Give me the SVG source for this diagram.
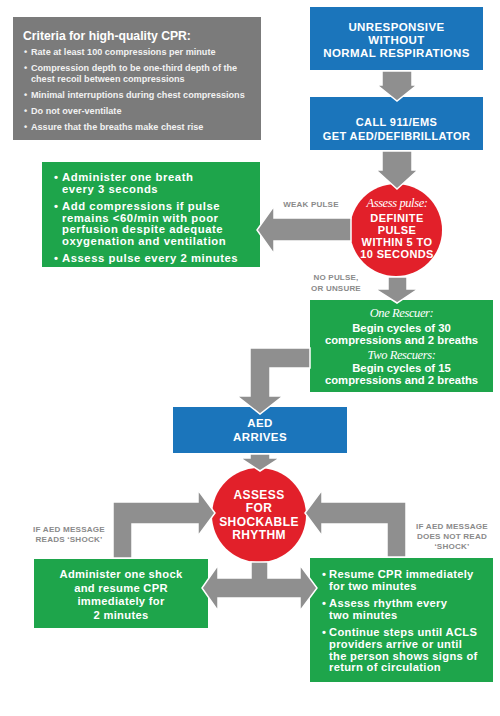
<svg xmlns="http://www.w3.org/2000/svg" width="500" height="716" viewBox="0 0 500 716">
<style>
.blue{fill:#1b75bb}
.green{fill:#1ea54b}
.red{fill:#e2202a}
.gbox{fill:#7b7b7b}
.arr{fill:#8f8f8f;stroke:#fff;stroke-width:1.5;stroke-linejoin:miter}
text{font-family:"Liberation Sans",Arial,sans-serif;font-weight:bold;fill:#fff}
.c{text-anchor:middle}
.cap{font-size:11.5px;letter-spacing:0.4px}
.g12{font-size:11.3px;letter-spacing:0.55px}
.g11{font-size:11.3px}
.r11{font-size:11.2px;letter-spacing:0.3px}
.it{font-family:"Liberation Serif","Times New Roman",serif;font-style:italic;font-weight:normal;font-size:12.5px;letter-spacing:-0.4px}
.lbl{font-size:8.1px;fill:#8a8a8a;text-anchor:middle;letter-spacing:0.2px}
.crit{font-size:9.1px;fill:#f2f2f2}
</style>

<g id="criteria">
<rect class="gbox" x="13" y="17" width="248" height="123"/>
<text x="23" y="39.5" style="font-size:12.2px">Criteria for high-quality CPR:</text>
<text class="crit" x="24" y="55">•</text><text class="crit" x="31" y="55">Rate at least 100 compressions per minute</text>
<text class="crit" x="24" y="71">•</text><text class="crit" x="31" y="71">Compression depth to be one-third depth of the</text>
<text class="crit" x="31" y="81.5">chest recoil between compressions</text>
<text class="crit" x="24" y="97.5">•</text><text class="crit" x="31" y="97.5">Minimal interruptions during chest compressions</text>
<text class="crit" x="24" y="113.5">•</text><text class="crit" x="31" y="113.5">Do not over-ventilate</text>
<text class="crit" x="24" y="129.5">•</text><text class="crit" x="31" y="129.5">Assure that the breaths make chest rise</text>
</g>

<g id="unresponsive">
<rect class="blue" x="310" y="7" width="173" height="63"/>
<text class="c cap" x="396.5" y="31">UNRESPONSIVE</text>
<text class="c cap" x="396.5" y="44">WITHOUT</text>
<text class="c cap" x="396.5" y="57">NORMAL RESPIRATIONS</text>
</g>

<g id="call911">
<rect class="blue" x="310" y="97" width="173" height="53"/>
<text class="c cap" x="396.5" y="126" style="font-size:11px">CALL 911/EMS</text>
<text class="c cap" x="396.5" y="140" style="font-size:11px">GET AED/DEFIBRILLATOR</text>
</g>

<g id="weak-pulse-box">
<rect class="green" x="42" y="162" width="218" height="105"/>
<text class="g12" x="54" y="181">•</text><text class="g12" x="62" y="181">Administer one breath</text>
<text class="g12" x="62" y="192.5">every 3 seconds</text>
<text class="g12" x="54" y="210">•</text><text class="g12" x="62" y="210">Add compressions if pulse</text>
<text class="g12" x="62" y="221.5">remains &lt;60/min with poor</text>
<text class="g12" x="62" y="233">perfusion despite adequate</text>
<text class="g12" x="62" y="244.5">oxygenation and ventilation</text>
<text class="g12" x="54" y="262">•</text><text class="g12" x="62" y="262">Assess pulse every 2 minutes</text>
</g>

<g id="assess-pulse">
<circle class="red" cx="396" cy="230" r="46"/>
<text class="c it" x="397" y="207">Assess pulse:</text>
<text class="c cap" x="397" y="222" style="font-size:11px">DEFINITE</text>
<text class="c cap" x="397" y="234" style="font-size:11px">PULSE</text>
<text class="c cap" x="397" y="246" style="font-size:11px">WITHIN 5 TO</text>
<text class="c cap" x="397" y="258" style="font-size:11px">10 SECONDS</text>
</g>

<g id="cpr-cycles">
<rect class="green" x="310" y="300" width="183" height="92"/>
<text class="c it" x="401.5" y="317">One Rescuer:</text>
<text class="c g11" x="401.5" y="332">Begin cycles of 30</text>
<text class="c g11" x="401.5" y="344">compressions and 2 breaths</text>
<text class="c it" x="401.5" y="359">Two Rescuers:</text>
<text class="c g11" x="401.5" y="372">Begin cycles of 15</text>
<text class="c g11" x="401.5" y="384">compressions and 2 breaths</text>
</g>

<g id="aed-arrives">
<rect class="blue" x="173" y="407" width="174" height="46"/>
<text class="c cap" x="260" y="427">AED</text>
<text class="c cap" x="260" y="441">ARRIVES</text>
</g>

<g id="assess-rhythm">
<circle class="red" cx="259" cy="515" r="47"/>
<text class="c cap" x="259" y="499" style="font-size:12px">ASSESS</text>
<text class="c cap" x="259" y="512" style="font-size:12px">FOR</text>
<text class="c cap" x="259" y="526" style="font-size:12px">SHOCKABLE</text>
<text class="c cap" x="259" y="539" style="font-size:12px">RHYTHM</text>
</g>

<g id="shock-box">
<rect class="green" x="34" y="559" width="174" height="69"/>
<text class="c r11" x="121" y="578">Administer one shock</text>
<text class="c r11" x="121" y="592">and resume CPR</text>
<text class="c r11" x="121" y="605">immediately for</text>
<text class="c r11" x="121" y="619">2 minutes</text>
</g>

<g id="no-shock-box">
<rect class="green" x="310" y="558" width="183" height="124"/>
<text class="r11" x="322" y="578">•</text><text class="r11" x="329" y="578">Resume CPR immediately</text>
<text class="r11" x="329" y="590">for two minutes</text>
<text class="r11" x="322" y="607">•</text><text class="r11" x="329" y="607">Assess rhythm every</text>
<text class="r11" x="329" y="619">two minutes</text>
<text class="r11" x="322" y="636">•</text><text class="r11" x="329" y="636">Continue steps until ACLS</text>
<text class="r11" x="329" y="648">providers arrive or until</text>
<text class="r11" x="329" y="659.5">the person shows signs of</text>
<text class="r11" x="329" y="671">return of circulation</text>
</g>

<g id="connectors">
<polygon class="arr" points="382,71 412,71 412,85 417,85 397,101 377,85 382,85"/>
<polygon class="arr" points="382,151 412,151 412,170 418,170 397,189 376,170 382,170"/>
<polygon class="arr" points="388,277 407,277 407,289 418,289 397,303 375,289 388,289"/>
<polygon class="arr" points="351,218 274,218 274,206 257,230 274,254 274,241 351,241"/>
<polygon class="arr" points="310,348 250,348 250,396 237,396 260,414 283,396 270,396 270,368 310,368"/>
<polygon class="arr" points="250,454 270,454 270,458 280,458 260,471 240,458 250,458"/>
<polygon class="arr" points="113,558 113,502 198,502 198,490 215,513 198,536 198,524 132,524 132,558"/>
<polygon class="arr" points="406,557 406,502 322,502 322,490 305,513 322,536 322,524 387,524 387,557"/>
<polygon class="arr" points="251,562 268,562 268,578 300,578 300,565 317,588 300,611 300,598 218,598 218,611 202,588 218,565 218,578 251,578"/>
<text class="lbl" x="311" y="207" style="font-size:8px">WEAK PULSE</text>
<text class="lbl" x="336" y="280" style="font-size:8px">NO PULSE,</text>
<text class="lbl" x="336" y="291" style="font-size:8px">OR UNSURE</text>
<text class="lbl" x="69" y="532">IF AED MESSAGE</text>
<text class="lbl" x="69" y="542">READS ‘SHOCK’</text>
<text class="lbl" x="452" y="529">IF AED MESSAGE</text>
<text class="lbl" x="452" y="539">DOES NOT READ</text>
<text class="lbl" x="452" y="549">‘SHOCK’</text>
</g>
</svg>
